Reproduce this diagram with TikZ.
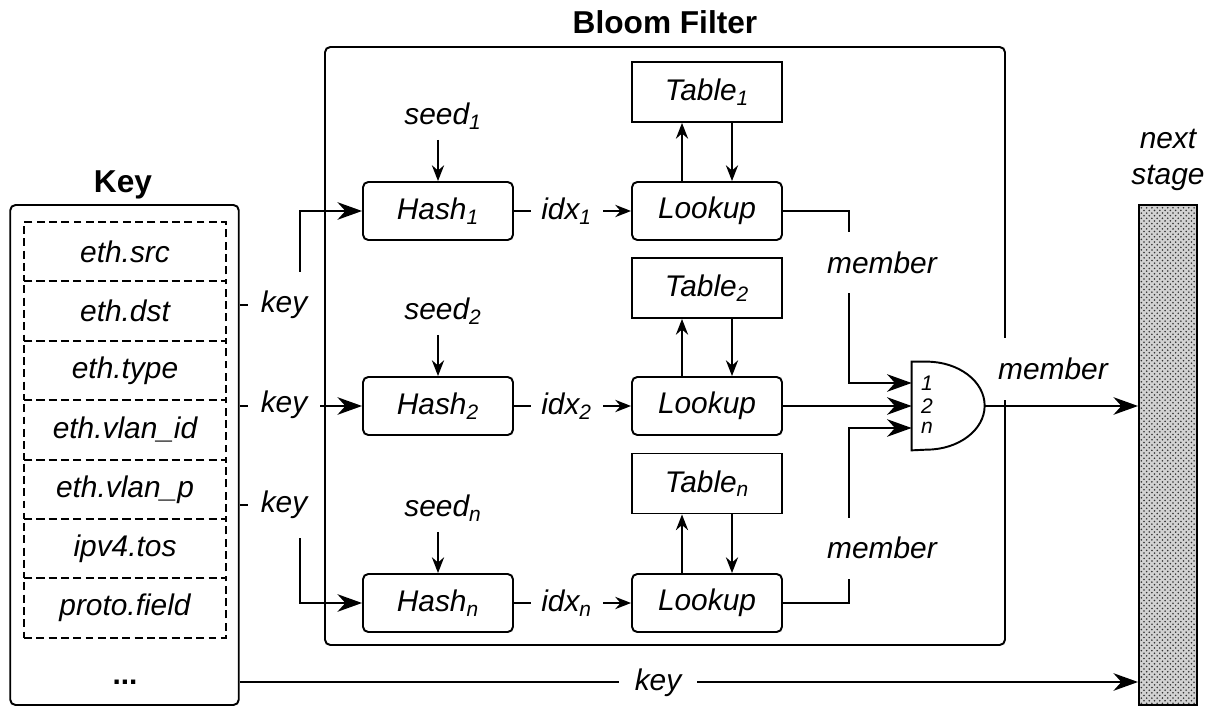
\documentclass[tikz,border=0pt]{standalone}
\usepackage{fontspec}
\setmainfont{Liberation Sans}
\usetikzlibrary{arrows.meta,positioning,patterns}

\begin{document}
\begin{tikzpicture}[
  font=\fontsize{17}{20}\selectfont\itshape,
  lw/.style={line width=1.1pt},
  blk/.style={draw, lw, rounded corners=3pt, minimum width=3cm, minimum height=1.16cm},
  tbl/.style={draw, lw, minimum width=3cm, minimum height=1.2cm},
  fld/.style={draw, lw, dash pattern=on 4.5pt off 2.5pt, minimum width=4.04cm,
    minimum height=1.188cm},
  ttl/.style={font=\fontsize{18}{20}\selectfont\upshape\bfseries},
  lbl/.style={fill=white, minimum width=1.44cm, minimum height=1.3cm, inner sep=0pt},
  mbr/.style={fill=white, minimum height=1.22cm, inner xsep=1pt},
  sd/.style={inner xsep=2pt, inner ysep=6pt},
  gin/.style={font=\fontsize{12}{14}\selectfont\itshape, inner sep=0pt},
  ba/.style={lw, -{Stealth[length=14pt, width=10pt, inset=4.5pt]}},
  sa/.style={line width=0.8pt, -{Stealth[length=9pt, width=7pt, inset=3pt]}},
  ia/.style={lw, -{Stealth[length=9pt, width=7pt, inset=3pt]}}
]
\useasboundingbox (0,0) rectangle (24.24,-14.12);

% key fields
\node[ttl] (keyttl) at (2.46,-3.7) {Key};
\node[draw, lw, rounded corners=3pt, minimum width=4.57cm, minimum height=10cm] (kbox) at (2.49,-9.1) {};
\foreach \f [count=\i] in {eth.src, eth.dst, eth.type, eth.vlan\_id, eth.vlan\_p, ipv4.tos, proto.field}
  \node[fld] (f\i) at (2.5,{-3.846-1.188*\i}) {\f};
\node (dots) at (2.5,-13.64) {\upshape\bfseries ...};

% bloom filter
\node[draw, lw, rounded corners=3pt, minimum width=13.6cm, minimum height=11.96cm] (bloom) at (13.3,-6.92) {};
\node[ttl] (bloomttl) at (13.3,-0.44) {Bloom Filter};

\foreach \i/\s/\y/\ty in {1/1/-4.22/-1.84, 2/2/-8.12/-5.76, 3/n/-12.06/-9.67} {
  \node[blk] (h\i) at (8.76,\y) {Hash\textsubscript{\s}};
  \node[blk] (l\i) at (14.14,\y) {Lookup};
  \node[tbl] (t\i) at (14.14,\ty) {Table\textsubscript{\s}};
  \node[sd] (s\i) at (8.86,{\y+1.9}) {seed\textsubscript{\s}};
  \draw[sa] (s\i.south -| h\i) -- (h\i);
  \draw[ia] (h\i) -- node[lbl, pos=0.45] (x\i) {idx\textsubscript{\s}} (l\i);
  \draw[sa] ([xshift=-0.5cm]l\i.north) -- ([xshift=-0.5cm]t\i.south);
  \draw[sa] ([xshift=0.5cm]t\i.south) -- ([xshift=0.5cm]l\i.north);
}

% and gate
\node[minimum width=1.46cm, minimum height=1.76cm, inner sep=0pt] (gate) at (18.97,-8.12) {};
\draw[lw] (gate.north west) -- ++(0.3,0)
  arc[start angle=90, end angle=-90, x radius=1.16cm, y radius=0.88cm]
  -- (gate.south west) -- cycle;
\coordinate (g1) at ([yshift=0.46cm]gate.west);
\coordinate (g2) at (gate.west);
\coordinate (g3) at ([yshift=-0.44cm]gate.west);
\node[gin, right=0.18cm of g1] (gi1) {1};
\node[gin, right=0.18cm of g2] (gi2) {2};
\node[gin, right=0.18cm of g3] (gi3) {n};

% next stage
\node[draw, lw, minimum width=1.16cm, minimum height=10cm, preaction={fill=gray!35},
  pattern=crosshatch dots, pattern color=black!80] (nxt) at (23.36,-9.1) {};
\node[align=center] (nxtlbl) at (23.36,-3.2) {next\\stage};

% connectors
\draw[ba] (l1.east) -- ++(1.32,0) |- (g1);
\draw[ba] (l2) -- (g2);
\draw[ba] (l3.east) -- ++(1.32,0) |- (g3);
\node[mbr] (m1) at (17.64,-5.26) {member};
\node[mbr] (m3) at (17.64,-10.96) {member};
\draw[ba] (gate.east) -- (gate.east -| nxt.west);
\node[mbr, minimum height=1.24cm] (mo) at (21.06,-7.38) {member};

\coordinate (c1) at (6,-6.1);
\coordinate (c3) at (6,-10.1);
\draw[ba] (kbox.east |- c1) -- (c1) |- (h1);
\draw[ba] (kbox.east |- h2) -- (h2);
\draw[ba] (kbox.east |- c3) -- (c3) |- (h3);
\draw[ba] (kbox.east |- dots) -- (dots -| nxt.west);
\node[lbl] (k1) at (5.68,-6.1) {key};
\node[lbl] (k2) at (5.68,-8.1) {key};
\node[lbl] (k3) at (5.68,-10.1) {key};
\node[lbl, minimum width=1.56cm] (k4) at (13.16,-13.66) {key};
\end{tikzpicture}
\end{document}
